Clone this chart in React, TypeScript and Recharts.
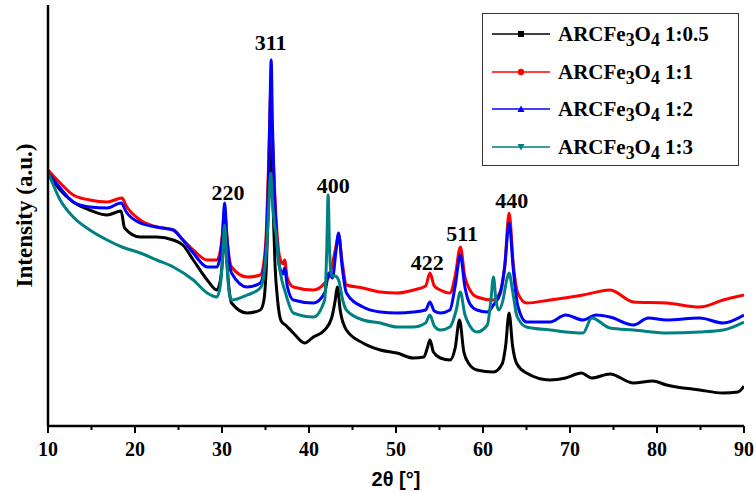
import { LineChart, Line, XAxis, YAxis, ReferenceDot } from 'recharts';

// XRD patterns, 2θ (deg) vs intensity (a.u.)
const s05: [number, number][] = [
  [10, 253], [11.4, 236], [12.9, 224], [14.8, 216], [16.8, 211], [18.4, 215], [18.8, 198],
  [20.6, 189], [22.5, 189], [24.4, 186], [25.5, 181], [26.7, 166], [28.3, 146], [29.4, 136],
  [29.8, 145], [30.05, 165], [30.3, 199], [30.55, 165], [30.8, 138], [31.1, 123], [32.9, 113],
  [34.4, 116], [34.8, 125], [35.1, 160], [35.4, 240], [35.6, 290], [35.8, 240], [36.1, 160],
  [36.4, 125], [36.8, 105], [37.3, 101], [38.2, 93], [39.5, 83], [40.5, 89], [41.8, 96],
  [42.6, 108], [43.0, 125], [43.25, 139], [43.6, 115], [44.3, 96], [46.2, 83], [48.2, 76],
  [50.1, 73], [52.0, 68], [53.2, 69], [53.6, 78], [53.9, 86], [54.3, 74], [55.1, 68],
  [56.2, 66], [56.8, 78], [57.3, 106], [57.8, 74], [58.4, 62], [59.3, 56], [61.2, 54],
  [62.2, 62], [62.6, 80], [63.0, 113], [63.4, 80], [63.9, 62], [65.0, 53], [67.7, 46],
  [69.5, 48], [71.3, 53], [72.5, 48], [74.6, 52], [77.3, 43], [79.5, 45], [81.1, 41],
  [84.9, 36], [87.6, 33], [89.3, 34], [90, 40],
];

const s1: [number, number][] = [
  [10, 256], [11.4, 243], [12.9, 231], [14.8, 226], [16.8, 224], [18.5, 228], [19.0, 220],
  [20.6, 206], [22.5, 199], [24.4, 196], [25.2, 189], [26.7, 176], [28.3, 166], [29.4, 166],
  [29.8, 175], [30.05, 192], [30.3, 216], [30.55, 192], [30.8, 170], [31.1, 159], [32.9, 149],
  [34.4, 151], [34.8, 163], [35.1, 196], [35.35, 260], [35.5, 310], [35.6, 336], [35.75, 300],
  [36.0, 245], [36.3, 196], [36.6, 170], [37.0, 162], [37.2, 166], [37.5, 148], [38.2, 139],
  [40.5, 136], [41.8, 143], [42.4, 152], [43.0, 175], [43.4, 191], [43.8, 165], [44.3, 141],
  [46.2, 138], [48.2, 134], [50.1, 133], [52.0, 136], [53.4, 140], [53.9, 153], [54.4, 140],
  [55.1, 136], [56.2, 133], [56.8, 150], [57.4, 179], [57.9, 150], [58.5, 136], [59.3, 129],
  [61.2, 126], [62.0, 135], [62.5, 160], [63.0, 213], [63.5, 160], [64.0, 133], [65.0, 123],
  [67.7, 126], [71.5, 131], [74.6, 136], [77.3, 124], [81.1, 123], [84.9, 119], [87.6, 126],
  [90, 131],
];

const s2: [number, number][] = [
  [10, 253], [11.4, 238], [12.9, 224], [14.8, 219], [16.8, 218], [18.4, 223], [19.0, 214],
  [20.6, 203], [22.5, 199], [24.4, 196], [25.5, 186], [26.7, 173], [28.3, 159], [29.4, 159],
  [29.8, 170], [30.05, 190], [30.3, 223], [30.55, 190], [30.8, 166], [31.1, 153], [32.9, 139],
  [34.4, 143], [34.8, 155], [35.1, 186], [35.35, 250], [35.5, 310], [35.65, 366], [35.8, 300],
  [36.0, 240], [36.3, 186], [36.6, 160], [37.0, 152], [37.2, 158], [37.5, 140], [38.2, 126],
  [40.5, 123], [41.8, 133], [42.3, 153], [42.7, 148], [43.1, 175], [43.4, 193], [43.8, 160],
  [44.3, 133], [46.2, 119], [48.2, 114], [50.1, 113], [52.0, 114], [53.4, 116], [53.9, 124],
  [54.4, 115], [55.1, 113], [56.2, 116], [56.8, 140], [57.4, 171], [57.9, 140], [58.5, 122],
  [59.3, 116], [60.5, 114], [61.2, 121], [62.0, 133], [62.5, 160], [63.0, 203], [63.5, 155],
  [64.0, 120], [65.0, 104], [67.7, 104], [69.5, 111], [71.5, 106], [73.0, 111], [74.6, 109],
  [77.3, 101], [79.0, 108], [81.1, 106], [84.9, 108], [87.6, 103], [90, 111],
];

const s3: [number, number][] = [
  [10, 254], [11.4, 226], [12.9, 209], [14.8, 196], [16.8, 186], [18.5, 179], [20.6, 173],
  [22.5, 166], [24.4, 159], [26.7, 146], [28.3, 133], [29.4, 129], [29.8, 140], [30.05, 165],
  [30.3, 201], [30.55, 165], [30.8, 135], [31.1, 126], [32.9, 131], [34.4, 138], [34.8, 150],
  [35.1, 175], [35.35, 215], [35.6, 253], [35.8, 225], [36.05, 200], [36.2, 193], [36.5, 165],
  [36.9, 145], [37.2, 136], [38.2, 113], [40.5, 109], [41.8, 126], [42.05, 180], [42.2, 231],
  [42.35, 180], [42.6, 150], [43.0, 150], [43.4, 146], [43.9, 125], [44.3, 116], [46.2, 106],
  [48.2, 103], [50.1, 99], [52.0, 99], [53.4, 103], [53.9, 111], [54.4, 100], [55.1, 96],
  [56.2, 99], [56.9, 115], [57.4, 134], [57.9, 112], [58.5, 100], [59.3, 94], [60.5, 101],
  [60.9, 125], [61.2, 149], [61.5, 125], [61.8, 116], [62.3, 126], [62.7, 145], [63.0, 153],
  [63.4, 135], [63.9, 110], [65.0, 99], [67.7, 96], [71.5, 93], [72.5, 108], [74.6, 98],
  [77.3, 96], [81.1, 93], [84.9, 94], [87.6, 96], [90, 104],
];

const seriesNames = ['1:0.5', '1:1', '1:2', '1:3'];
const seriesData = [s05, s1, s2, s3];
const seriesColors = ['#000000', '#ff0000', '#0000ff', '#008080'];
const seriesMarkers = ['square', 'circle', 'triangle', 'triangleDown'];

// (hkl) annotations: label, 2θ, intensity level of the label
const peakLabels = ['220', '311', '400', '422', '511', '440'];
const peakTheta = [30.7, 35.6, 42.8, 53.6, 57.6, 63.3];
const peakLevel = [234, 384, 241, 164, 193, 226];

const xTicks = [10, 15, 20, 25, 30, 35, 40, 45, 50, 55, 60, 65, 70, 75, 80, 85, 90];

const SERIF = '"Liberation Serif", "Times New Roman", serif';

const XTick = (props: any) => {
  const { x, y, payload } = props;
  const major = payload.value % 10 === 0;
  return (
    <g>
      <line x1={x} x2={x} y1={y} y2={y + (major ? 7 : 4)} stroke="#000" strokeWidth={2} />
      {major && (
        <text x={x} y={y + 30} textAnchor="middle" fontFamily={SERIF} fontWeight={700} fontSize={20} fill="#000">
          {payload.value}
        </text>
      )}
    </g>
  );
};

const Marker = ({ kind, color }: { kind: string; color: string }) => {
  let shape;
  if (kind === 'square') shape = <rect x={26} y={4} width={6} height={6} fill={color} />;
  else if (kind === 'circle') shape = <circle cx={29} cy={7} r={3.2} fill={color} />;
  else if (kind === 'triangle') shape = <polygon points="25.5,10 32.5,10 29,3.5" fill={color} />;
  else shape = <polygon points="25.5,4 32.5,4 29,10.5" fill={color} />;
  return (
    <svg width={58} height={14} style={{ display: 'block' }}>
      <line x1={0} x2={58} y1={7} y2={7} stroke={color} strokeWidth={1.5} />
      {shape}
    </svg>
  );
};

export default function App() {
  return (
    <div style={{ position: 'absolute', left: 0, top: 0, width: 756, height: 493, background: '#fff' }}>
      <LineChart width={756} height={493} margin={{ top: 5, right: 12, bottom: 0, left: 0 }}>
        <XAxis
          xAxisId="b"
          dataKey="x"
          type="number"
          domain={[10, 90]}
          ticks={xTicks}
          interval={0}
          tickSize={0}
          tickMargin={0}
          tickLine={false}
          tick={<XTick />}
          height={67}
          axisLine={{ stroke: '#000', strokeWidth: 2.5 }}
          allowDataOverflow
          label={{
            value: '2θ [°]',
            position: 'insideBottom',
            offset: 7,
            fill: '#000',
            fontSize: 20,
            fontWeight: 700,
            fontFamily: '"Liberation Sans", Arial, sans-serif',
          }}
        />
        <XAxis
          xAxisId="t"
          orientation="top"
          type="number"
          domain={[10, 90]}
          height={0}
          tick={false}
          tickLine={false}
          axisLine={{ stroke: '#000', strokeWidth: 1.5 }}
        />
        <YAxis
          yAxisId="l"
          type="number"
          domain={[0, 421]}
          width={48}
          tick={false}
          tickLine={false}
          axisLine={{ stroke: '#000', strokeWidth: 2.5 }}
          allowDataOverflow
          label={{
            value: 'Intensity (a.u.)',
            angle: -90,
            position: 'insideLeft',
            offset: 24,
            style: { textAnchor: 'middle' },
            fill: '#000',
            fontSize: 23,
            fontWeight: 700,
            fontFamily: SERIF,
          }}
        />
        <YAxis
          yAxisId="r"
          orientation="right"
          type="number"
          domain={[0, 421]}
          width={0}
          tick={false}
          tickLine={false}
          axisLine={{ stroke: '#000', strokeWidth: 2.5 }}
        />
        {seriesData.map((s, i) => (
          <Line
            key={seriesNames[i]}
            xAxisId="b"
            yAxisId="l"
            data={s.map(([x, y]) => ({ x, y }))}
            dataKey="y"
            type="monotone"
            stroke={seriesColors[i]}
            strokeWidth={3}
            dot={false}
            isAnimationActive={false}
          />
        ))}
        {peakLabels.map((lab, i) => (
          <ReferenceDot
            key={lab}
            xAxisId="b"
            yAxisId="l"
            x={peakTheta[i]}
            y={peakLevel[i]}
            r={0}
            fill="none"
            stroke="none"
            label={{ value: lab, position: 'center', fill: '#000', fontSize: 22, fontWeight: 700, fontFamily: SERIF }}
          />
        ))}
      </LineChart>

      <div
        style={{
          position: 'absolute',
          left: 482,
          top: 13,
          width: 255,
          height: 151,
          border: '1.5px solid #333',
          background: '#fff',
          fontFamily: SERIF,
          fontWeight: 700,
          fontSize: 21,
          color: '#000',
        }}
      >
        {seriesNames.map((n, i) => (
          <div
            key={n}
            style={{ position: 'absolute', left: 9, top: 8 + i * 37.5, display: 'flex', alignItems: 'center', whiteSpace: 'nowrap' }}
          >
            <Marker kind={seriesMarkers[i]} color={seriesColors[i]} />
            <span style={{ marginLeft: 8, lineHeight: '24px' }}>
              ARCFe<sub style={{ fontSize: '0.85em', verticalAlign: '-0.3em', lineHeight: 0 }}>3</sub>O
              <sub style={{ fontSize: '0.85em', verticalAlign: '-0.3em', lineHeight: 0 }}>4</sub> {n}
            </span>
          </div>
        ))}
      </div>
    </div>
  );
}
